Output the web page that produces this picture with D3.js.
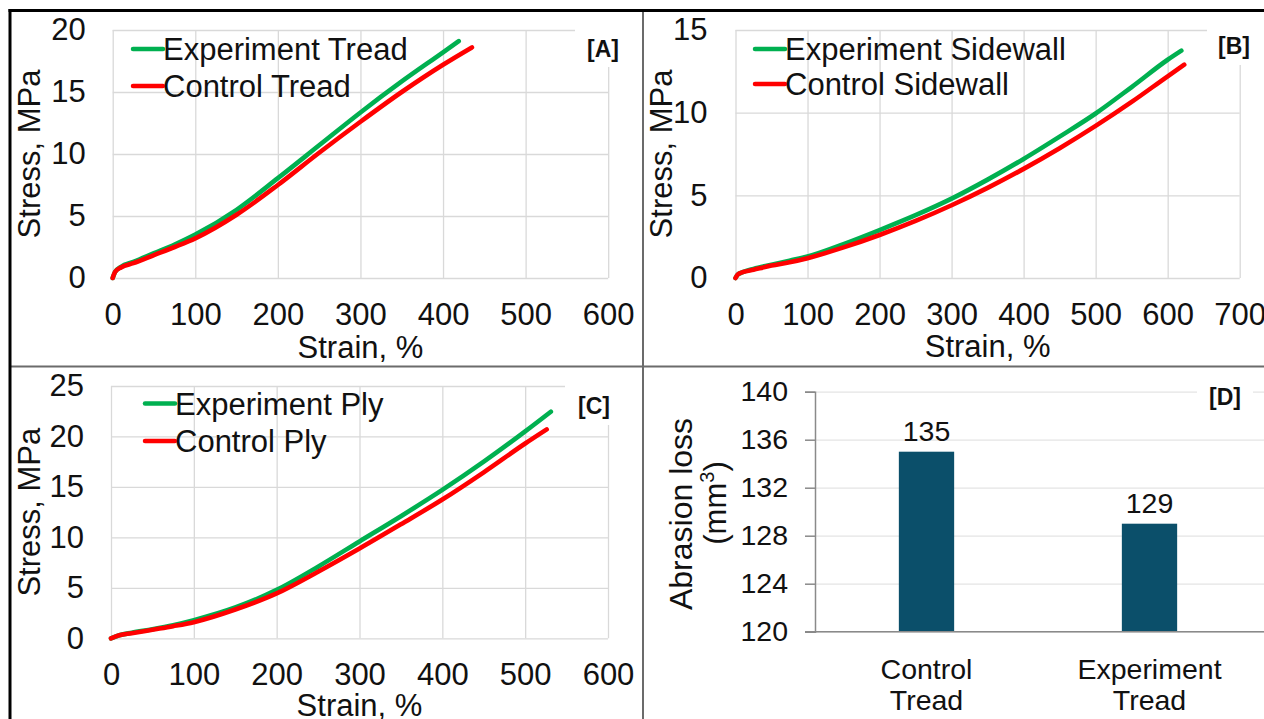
<!DOCTYPE html>
<html>
<head>
<meta charset="utf-8">
<script src="https://cdn.jsdelivr.net/npm/d3@7"></script>
<style>
  body { margin: 0; background: #fff; }
  svg { display: block; font-family: "Liberation Sans", Arial, sans-serif; }
</style>
</head>
<body>
<script>
// ---- data ----
// [A] tread
const treadExpStrain = [0, 3, 10, 25, 50, 75, 100, 150, 200, 250, 300, 350, 400, 419];
const treadExpStress = [0, 0.5, 0.9, 1.3, 2.0, 2.7, 3.5, 5.5, 8.05, 10.7, 13.35, 15.85, 18.2, 19.1];
const treadCtlStrain = [0, 3, 10, 25, 50, 75, 100, 150, 200, 250, 300, 350, 400, 435];
const treadCtlStress = [0, 0.5, 0.85, 1.2, 1.85, 2.5, 3.2, 5.1, 7.5, 10.1, 12.6, 15.0, 17.2, 18.6];
// [B] sidewall
const sideExpStrain = [0, 3, 10, 25, 50, 75, 100, 150, 200, 250, 300, 350, 400, 450, 500, 550, 600, 619];
const sideExpStress = [0, 0.2, 0.35, 0.55, 0.8, 1.05, 1.3, 2.05, 2.9, 3.8, 4.8, 5.95, 7.2, 8.55, 9.95, 11.55, 13.2, 13.75];
const sideCtlStrain = [0, 3, 10, 25, 50, 75, 100, 150, 200, 250, 300, 350, 400, 450, 500, 550, 600, 623];
const sideCtlStress = [0, 0.2, 0.35, 0.5, 0.75, 0.95, 1.2, 1.85, 2.6, 3.45, 4.4, 5.45, 6.6, 7.85, 9.2, 10.65, 12.2, 12.9];
// [C] ply
const plyExpStrain = [0, 10, 25, 50, 75, 100, 150, 200, 250, 300, 350, 400, 450, 500, 531];
const plyExpStress = [0, 0.3, 0.55, 0.9, 1.3, 1.8, 3.05, 4.8, 7.1, 9.6, 12.1, 14.7, 17.5, 20.5, 22.45];
const plyCtlStrain = [0, 10, 25, 50, 75, 100, 150, 200, 250, 300, 350, 400, 450, 500, 526];
const plyCtlStress = [0, 0.3, 0.5, 0.85, 1.2, 1.6, 2.85, 4.45, 6.6, 8.9, 11.3, 13.75, 16.45, 19.3, 20.7];
// [D] abrasion
const abrasionCats = ["Control Tread", "Experiment Tread"];
const abrasionLoss = [135, 129];

const ticks600 = [0, 100, 200, 300, 400, 500, 600];
const ticks700 = [0, 100, 200, 300, 400, 500, 600, 700];
const ticksA = [0, 5, 10, 15, 20];
const ticksB = [0, 5, 10, 15];
const ticksC = [0, 5, 10, 15, 20, 25];
const ticksD = [120, 124, 128, 132, 136, 140];

const GREEN = "#00b050", RED = "#ff0000", GRID = "#d9d9d9", BAR = "#0b4f6a";
const FS = 31;

const svg = d3.select("body").append("svg")
    .attr("width", 1264)
    .attr("height", 719);
svg.append("rect").attr("width", 1264).attr("height", 719).attr("fill", "#fff");

function tagBox(g, b) {
    g.append("rect")
        .attr("x", b.x0).attr("y", b.y0)
        .attr("width", b.x1 - b.x0).attr("height", b.y1 - b.y0)
        .attr("fill", "#fff");
    g.append("text")
        .attr("x", b.cx).attr("y", b.by)
        .attr("text-anchor", "middle")
        .attr("font-size", 23)
        .attr("font-weight", "bold")
        .attr("fill", "#111")
        .text(b.label);
}

function linePanel(p) {
    const x = d3.scaleLinear().domain([0, p.xMax]).range([p.left, p.right]);
    const y = d3.scaleLinear().domain([0, p.yMax]).range([p.bottom, p.top]);
    const g = svg.append("g");

    // grid
    g.append("g")
        .attr("transform", "translate(0," + p.bottom + ")")
        .call(d3.axisBottom(x).tickValues(p.xTicks).tickSize(-(p.bottom - p.top)).tickFormat(""))
        .call(s => s.select(".domain").remove());
    g.append("g")
        .attr("transform", "translate(" + p.left + ",0)")
        .call(d3.axisLeft(y).tickValues(p.yTicks).tickSize(-(p.right - p.left)).tickFormat(""))
        .call(s => s.select(".domain").remove());
    g.selectAll(".tick line").attr("stroke", GRID).attr("stroke-width", 1.3);

    tagBox(g, p.tag);

    // tick labels
    g.append("g")
        .attr("transform", "translate(0," + p.bottom + ")")
        .call(d3.axisBottom(x).tickValues(p.xTicks).tickSize(0).tickPadding(25))
        .call(s => s.select(".domain").remove())
        .selectAll("text").attr("font-size", FS).attr("fill", "#111").attr("font-family", null);
    g.append("g")
        .attr("transform", "translate(" + p.left + ",0)")
        .call(d3.axisLeft(y).tickValues(p.yTicks).tickSize(0).tickPadding(p.yPad))
        .call(s => s.select(".domain").remove())
        .selectAll("text").attr("font-size", FS).attr("fill", "#111").attr("font-family", null);

    // axis titles
    g.append("text")
        .attr("x", (p.left + p.right) / 2).attr("y", p.xTitleY)
        .attr("text-anchor", "middle").attr("font-size", FS).attr("fill", "#111")
        .text("Strain, %");
    g.append("text")
        .attr("transform", "translate(" + p.yTitleX + "," + (p.top + p.bottom) / 2 + ") rotate(-90)")
        .attr("text-anchor", "middle").attr("font-size", FS).attr("fill", "#111")
        .text("Stress, MPa");

    // curves (control drawn last, it sits on top)
    const line = d3.line().x(d => x(d[0])).y(d => y(d[1])).curve(d3.curveMonotoneX);
    p.series.forEach(s => {
        g.append("path")
            .datum(d3.zip(s.strain, s.stress))
            .attr("d", line)
            .attr("fill", "none")
            .attr("stroke", s.color)
            .attr("stroke-width", 4.6)
            .attr("stroke-linecap", "round")
            .attr("stroke-linejoin", "round");
    });

    // legend
    p.series.forEach((s, i) => {
        const ly = p.legY[i];
        g.append("line")
            .attr("x1", p.legX).attr("x2", p.legX + 30)
            .attr("y1", ly).attr("y2", ly)
            .attr("stroke", s.color).attr("stroke-width", 4.5).attr("stroke-linecap", "round");
        g.append("text")
            .attr("x", p.legX + 30).attr("y", ly + 11)
            .attr("font-size", FS).attr("fill", "#111")
            .text(s.name);
    });
}

linePanel({
    left: 112.7, right: 608.2, top: 30, bottom: 278,
    xMax: 600, yMax: 20, xTicks: ticks600, yTicks: ticksA, yPad: 27,
    xTitleY: 358, yTitleX: 40,
    legX: 133, legY: [49, 86],
    tag: {label: "[A]", cx: 603, by: 57, x0: 575, x1: 640, y0: 25, y1: 67},
    series: [
        {name: "Experiment Tread", color: GREEN, strain: treadExpStrain, stress: treadExpStress},
        {name: "Control Tread", color: RED, strain: treadCtlStrain, stress: treadCtlStress}
    ]
});

linePanel({
    left: 735.5, right: 1239.7, top: 30, bottom: 278,
    xMax: 700, yMax: 15, xTicks: ticks700, yTicks: ticksB, yPad: 28,
    xTitleY: 357, yTitleX: 672,
    legX: 755, legY: [49, 84],
    tag: {label: "[B]", cx: 1234, by: 54, x0: 1207, x1: 1264, y0: 25, y1: 65},
    series: [
        {name: "Experiment Sidewall", color: GREEN, strain: sideExpStrain, stress: sideExpStress},
        {name: "Control Sidewall", color: RED, strain: sideCtlStrain, stress: sideCtlStress}
    ]
});

linePanel({
    left: 111, right: 608, top: 386, bottom: 638.3,
    xMax: 600, yMax: 25, xTicks: ticks600, yTicks: ticksC, yPad: 27,
    xTitleY: 716, yTitleX: 40,
    legX: 145, legY: [403.5, 441],
    tag: {label: "[C]", cx: 594, by: 414, x0: 565, x1: 632, y0: 380, y1: 425},
    series: [
        {name: "Experiment Ply", color: GREEN, strain: plyExpStrain, stress: plyExpStress},
        {name: "Control Ply", color: RED, strain: plyCtlStrain, stress: plyCtlStress}
    ]
});

// [D] bar chart
{
    const left = 815, right = 1264, top = 391.7, bottom = 631.7;
    const y = d3.scaleLinear().domain([120, 140]).range([bottom, top]);
    const x = d3.scaleBand().domain(abrasionCats).range([left, 1261])
        .paddingInner(0.752).paddingOuter(0.376);
    const g = svg.append("g");

    g.append("g")
        .attr("transform", "translate(" + left + ",0)")
        .call(d3.axisLeft(y).tickValues(ticksD).tickSize(-(right - left)).tickFormat(""))
        .call(s => s.select(".domain").remove())
        .selectAll(".tick line").attr("stroke", "#e4e4e4").attr("stroke-width", 1.3);

    tagBox(g, {label: "[D]", cx: 1225, by: 405, x0: 1197, x1: 1253, y0: 378, y1: 415});

    g.selectAll("rect.bar")
        .data(abrasionLoss)
        .enter().append("rect")
        .attr("class", "bar")
        .attr("x", (d, i) => x(abrasionCats[i]))
        .attr("y", d => y(d))
        .attr("width", x.bandwidth())
        .attr("height", d => bottom - y(d))
        .attr("fill", BAR);

    g.selectAll("text.val")
        .data(abrasionLoss)
        .enter().append("text")
        .attr("class", "val")
        .attr("x", (d, i) => x(abrasionCats[i]) + x.bandwidth() / 2)
        .attr("y", d => y(d) - 11)
        .attr("text-anchor", "middle").attr("font-size", 28.5).attr("fill", "#111")
        .text(d => d);

    // y axis
    g.append("g")
        .attr("transform", "translate(" + left + ",0)")
        .call(d3.axisLeft(y).tickValues(ticksD).tickSize(10).tickPadding(17))
        .call(s => s.select(".domain").attr("stroke", "#8a8a8a").attr("stroke-width", 1.5))
        .call(s => s.selectAll(".tick line").attr("stroke", "#8a8a8a").attr("stroke-width", 1.5))
        .selectAll("text").attr("font-size", 28.5).attr("fill", "#111").attr("font-family", null);

    // x axis line
    g.append("line")
        .attr("x1", left - 10).attr("x2", right)
        .attr("y1", bottom).attr("y2", bottom)
        .attr("stroke", "#8a8a8a").attr("stroke-width", 1.5);

    // category labels on two lines
    abrasionCats.forEach(c => {
        const t = g.append("text")
            .attr("text-anchor", "middle").attr("font-size", 28.5).attr("fill", "#111");
        c.split(" ").forEach((w, j) => {
            t.append("tspan")
                .attr("x", x(c) + x.bandwidth() / 2)
                .attr("y", bottom + 47 + j * 31.7)
                .text(w);
        });
    });

    // y title
    g.append("text")
        .attr("transform", "translate(692,514) rotate(-90)")
        .attr("text-anchor", "middle").attr("font-size", 32).attr("fill", "#111")
        .text("Abrasion loss");
    const unit = g.append("text")
        .attr("transform", "translate(726,503) rotate(-90)")
        .attr("text-anchor", "middle").attr("font-size", 31).attr("fill", "#111");
    unit.append("tspan").text("(mm");
    unit.append("tspan").attr("font-size", 20).attr("dy", -12).text("3");
    unit.append("tspan").attr("dy", 12).text(")");
}

// frame and dividers
svg.append("line").attr("x1", 643).attr("x2", 643).attr("y1", 10).attr("y2", 719)
    .attr("stroke", "#6b6b6b").attr("stroke-width", 2);
svg.append("line").attr("x1", 10).attr("x2", 1264).attr("y1", 366.5).attr("y2", 366.5)
    .attr("stroke", "#6b6b6b").attr("stroke-width", 2);
svg.append("line").attr("x1", 8.5).attr("x2", 1264).attr("y1", 10.5).attr("y2", 10.5)
    .attr("stroke", "#000").attr("stroke-width", 3);
svg.append("line").attr("x1", 10).attr("x2", 10).attr("y1", 9).attr("y2", 719)
    .attr("stroke", "#000").attr("stroke-width", 3);
</script>
</body>
</html>
